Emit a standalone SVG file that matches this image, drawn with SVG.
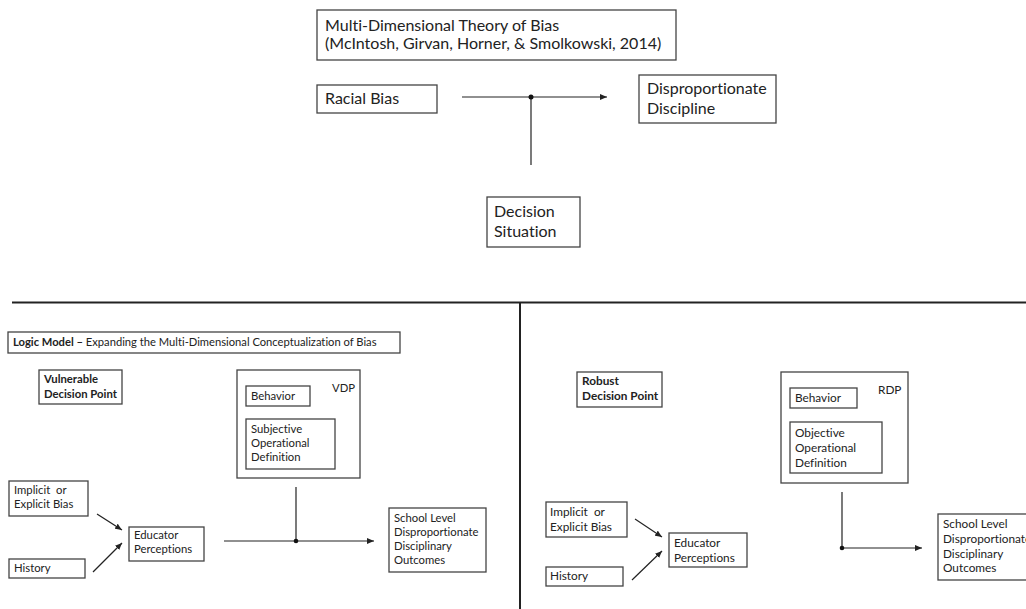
<svg xmlns="http://www.w3.org/2000/svg" width="1026" height="609" viewBox="0 0 1026 609">
<defs>
<marker id="ah" markerUnits="userSpaceOnUse" markerWidth="8" markerHeight="6" refX="7" refY="3" orient="auto">
<path d="M0,0 L7,3 L0,6 Z" fill="#222"/>
</marker>
<style>
text{font-variant-ligatures:none;font-feature-settings:"liga" 0}
.box{fill:#fff;stroke:#444;stroke-width:1.3}
.ln{stroke:#222;stroke-width:1.2;fill:none}
.sep{stroke:#222;stroke-width:2;fill:none}
.t1{font-family:Lato,"Open Sans",sans-serif;font-size:16px;fill:#222}
.t2{font-family:Lato,"Open Sans",sans-serif;font-size:11.3px;fill:#222}
.t3{font-family:Lato,"Open Sans",sans-serif;font-size:11.8px;fill:#222}
.t4{font-family:Lato,"Open Sans",sans-serif;font-size:11.2px;fill:#222}
.b{font-weight:bold}
.pre{white-space:pre}
</style>
</defs>
<rect width="1026" height="609" fill="#fff"/>

<g id="connectors">
<line class="ln" x1="462" y1="97" x2="607" y2="97" marker-end="url(#ah)"/>
<line class="ln" x1="531" y1="97" x2="531" y2="165"/>
<circle cx="531" cy="97" r="2.5" fill="#111"/>
<line class="sep" x1="12" y1="302.5" x2="1026" y2="302.5"/>
<line class="sep" x1="520" y1="302" x2="520" y2="609"/>
<line class="ln" x1="97" y1="514" x2="122" y2="530" marker-end="url(#ah)"/>
<line class="ln" x1="93" y1="572" x2="122" y2="543" marker-end="url(#ah)"/>
<line class="ln" x1="224" y1="541" x2="374" y2="541" marker-end="url(#ah)"/>
<line class="ln" x1="296" y1="487" x2="296" y2="541"/>
<circle cx="296" cy="541" r="2.3" fill="#111"/>
<line class="ln" x1="635" y1="519" x2="662" y2="537" marker-end="url(#ah)"/>
<line class="ln" x1="632" y1="580" x2="662" y2="551" marker-end="url(#ah)"/>
<line class="ln" x1="842" y1="492" x2="842" y2="548"/>
<line class="ln" x1="842" y1="548" x2="922" y2="548" marker-end="url(#ah)"/>
<circle cx="842" cy="548" r="2.3" fill="#111"/>
</g>

<g id="title">
<rect class="box" x="317" y="10" width="359" height="50"/>
<text class="t1" x="325" y="31">Multi-Dimensional Theory of Bias</text>
<text class="t1" x="325" y="49">(McIntosh, Girvan, Horner, &amp; Smolkowski, 2014)</text>
</g>
<g id="racial-bias">
<rect class="box" x="317" y="85" width="120" height="28"/>
<text class="t1" x="325" y="104">Racial Bias</text>
</g>
<g id="disproportionate-discipline">
<rect class="box" x="639" y="75" width="137" height="48"/>
<text class="t1" x="647" y="94">Disproportionate</text>
<text class="t1" x="647" y="114">Discipline</text>
</g>
<g id="decision-situation">
<rect class="box" x="487" y="197" width="93" height="50"/>
<text class="t1" x="494" y="217">Decision</text>
<text class="t1" x="494" y="237">Situation</text>
</g>

<g id="logic-model">
<rect class="box" x="8" y="332" width="392" height="21"/>
<text class="t4" x="13" y="346"><tspan class="b">Logic Model –</tspan> Expanding the Multi-Dimensional Conceptualization of Bias</text>
</g>
<g id="vulnerable-decision-point">
<rect class="box" x="39" y="370" width="83" height="34"/>
<text class="t2 b" x="44" y="383">Vulnerable</text>
<text class="t2 b" x="44" y="398">Decision Point</text>
</g>
<g id="vdp">
<rect class="box" x="237" y="370" width="123" height="108"/>
<text class="t2" x="332" y="392">VDP</text>
</g>
<g id="vdp-behavior">
<rect class="box" x="246" y="386" width="64" height="20"/>
<text class="t2" x="251" y="400">Behavior</text>
</g>
<g id="vdp-definition">
<rect class="box" x="246" y="419" width="89" height="50"/>
<text class="t2" x="251" y="433">Subjective</text>
<text class="t2" x="251" y="447">Operational</text>
<text class="t2" x="251" y="461">Definition</text>
</g>
<g id="left-bias">
<rect class="box" x="9" y="481" width="79" height="35"/>
<text class="t2 pre" x="14" y="494">Implicit  or</text>
<text class="t2" x="14" y="508">Explicit Bias</text>
</g>
<g id="left-history">
<rect class="box" x="9" y="559" width="76" height="19"/>
<text class="t2" x="14" y="572">History</text>
</g>
<g id="left-educator">
<rect class="box" x="129" y="527" width="75" height="34"/>
<text class="t2" x="134" y="539">Educator</text>
<text class="t2" x="134" y="553">Perceptions</text>
</g>
<g id="left-outcomes">
<rect class="box" x="389" y="508" width="97" height="64"/>
<text class="t2" x="394" y="522">School Level</text>
<text class="t2" x="394" y="536">Disproportionate</text>
<text class="t2" x="394" y="550">Disciplinary</text>
<text class="t2" x="394" y="564">Outcomes</text>
</g>

<g id="robust-decision-point">
<rect class="box" x="577" y="372" width="85" height="35"/>
<text class="t3 b" x="582" y="385">Robust</text>
<text class="t3 b" x="582" y="400">Decision Point</text>
</g>
<g id="rdp">
<rect class="box" x="781" y="372" width="127" height="111"/>
<text class="t3" x="878" y="394">RDP</text>
</g>
<g id="rdp-behavior">
<rect class="box" x="790" y="388" width="67" height="20"/>
<text class="t3" x="795" y="402">Behavior</text>
</g>
<g id="rdp-definition">
<rect class="box" x="790" y="422" width="92" height="51"/>
<text class="t3" x="795" y="437">Objective</text>
<text class="t3" x="795" y="452">Operational</text>
<text class="t3" x="795" y="467">Definition</text>
</g>
<g id="right-bias">
<rect class="box" x="546" y="502" width="81" height="35"/>
<text class="t3 pre" x="550" y="516">Implicit  or</text>
<text class="t3" x="550" y="531">Explicit Bias</text>
</g>
<g id="right-history">
<rect class="box" x="546" y="567" width="77" height="19"/>
<text class="t3" x="550" y="580">History</text>
</g>
<g id="right-educator">
<rect class="box" x="669" y="533" width="78" height="34"/>
<text class="t3" x="674" y="547">Educator</text>
<text class="t3" x="674" y="562">Perceptions</text>
</g>
<g id="right-outcomes">
<rect class="box" x="938" y="514" width="100" height="66"/>
<text class="t3" x="943" y="528">School Level</text>
<text class="t3" x="943" y="543">Disproportionate</text>
<text class="t3" x="943" y="558">Disciplinary</text>
<text class="t3" x="943" y="572">Outcomes</text>
</g>
</svg>
